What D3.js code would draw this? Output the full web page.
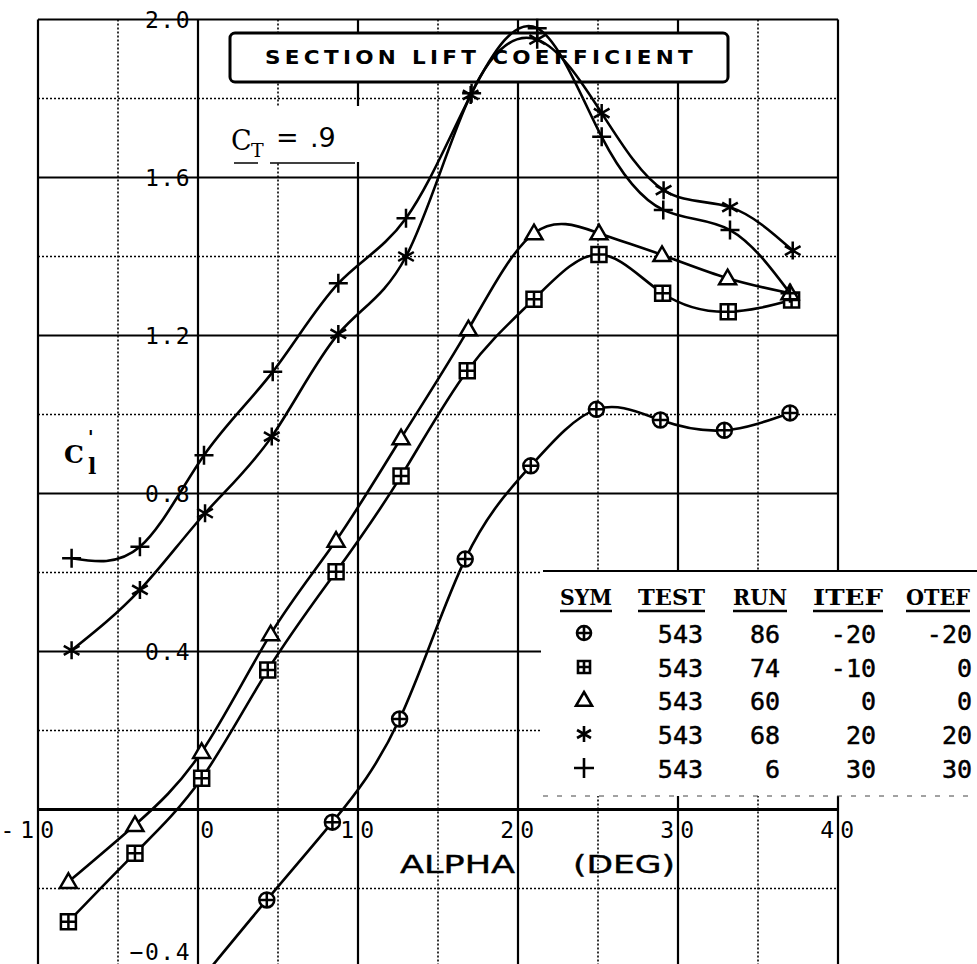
<!DOCTYPE html>
<html><head><meta charset="utf-8">
<script src="https://cdn.jsdelivr.net/npm/d3@7"></script>
<style>body{margin:0;background:#fff}svg{display:block}</style>
</head><body>
<svg id="c" width="977" height="964"></svg>
<script>
// ---------- data ----------
const alphaMajor = [-10, 0, 10, 20, 30, 40];
const alphaMinor = [-5, 5, 15, 25, 35];
const clMajor = [2.0, 1.6, 1.2, 0.8, 0.4, 0.0];
const clMinor = [1.8, 1.4, 1.0, 0.6, 0.2, -0.2];
const alphaTickLabels = [-10, 0, 10, 20, 30, 40];
const clTickLabels = [2.0, 1.6, 1.2, 0.8, 0.4, -0.4];

const alpha86 = [0.2, 4.3, 8.4, 12.6, 16.7, 20.8, 24.9, 28.9, 32.9, 37.0];
const cl86    = [-0.43, -0.229, -0.032, 0.229, 0.634, 0.870, 1.013, 0.986, 0.960, 1.004];
const alpha74 = [-8.1, -3.94, 0.23, 4.36, 8.63, 12.69, 16.83, 21.0, 25.06, 29.04, 33.14, 37.1];
const cl74    = [-0.284, -0.111, 0.079, 0.353, 0.602, 0.844, 1.111, 1.292, 1.405, 1.307, 1.260, 1.290];
const alpha60 = [-8.1, -3.94, 0.23, 4.54, 8.63, 12.69, 16.9, 21.0, 25.06, 29.0, 33.1, 37.0];
const cl60    = [-0.183, -0.039, 0.146, 0.444, 0.681, 0.940, 1.216, 1.459, 1.459, 1.404, 1.345, 1.307];
const alpha68 = [-7.9, -3.63, 0.44, 4.61, 8.77, 13.0, 17.04, 21.2, 25.23, 29.1, 33.25, 37.17];
const cl68    = [0.403, 0.556, 0.750, 0.944, 1.204, 1.400, 1.809, 1.949, 1.763, 1.568, 1.525, 1.415];
const alpha6  = [-7.9, -3.63, 0.375, 4.67, 8.77, 13.0, 17.1, 21.2, 25.23, 29.08, 33.25, 37.0];
const cl6     = [0.636, 0.665, 0.897, 1.108, 1.332, 1.497, 1.813, 1.978, 1.703, 1.518, 1.467, 1.307];

const legendSym  = ["circleplus", "squareplus", "triangle", "asterisk", "plus"];
const legendTest = [543, 543, 543, 543, 543];
const legendRun  = [86, 74, 60, 68, 6];
const legendItef = [-20, -10, 0, 20, 30];
const legendOtef = [-20, 0, 0, 20, 30];
const legendHeaders = ["SYM", "TEST", "RUN", "ITEF", "OTEF"];

const series = [
  {alpha: alpha86, cl: cl86, sym: "circleplus"},
  {alpha: alpha74, cl: cl74, sym: "squareplus"},
  {alpha: alpha60, cl: cl60, sym: "triangle"},
  {alpha: alpha68, cl: cl68, sym: "asterisk"},
  {alpha: alpha6,  cl: cl6,  sym: "plus"}
];

// ---------- layout ----------
const W = 977, H = 964;
const svg = d3.select("#c");
const x = d3.scaleLinear().domain([-10, 40]).range([38, 838]);
const y = d3.scaleLinear().domain([-0.4, 2.0]).range([967.5, 19.5]);
const pL = x(-10), pR = x(40), pT = y(2.0);

svg.append("rect").attr("width", W).attr("height", H).attr("fill", "#fff");
svg.append("defs").append("clipPath").attr("id", "plot")
  .append("rect").attr("x", pL - 12).attr("y", pT - 12).attr("width", pR - pL + 24).attr("height", H - pT + 12);

function symPath(t, s) {
  if (t === "circleplus") return `M${-s},0A${s},${s} 0 1,0 ${s},0A${s},${s} 0 1,0 ${-s},0ZM${-s},0H${s}M0,${-s}V${s}`;
  if (t === "squareplus") return `M${-s},${-s}H${s}V${s}H${-s}ZM${-s},0H${s}M0,${-s}V${s}`;
  if (t === "triangle") return `M0,${-s * 1.0}L${s},${s * 0.72}L${-s},${s * 0.72}Z`;
  if (t === "asterisk") { const c = s * 0.87, h = s * 0.5;
    return `M0,${-s}V${s}M${-c},${-h}L${c},${h}M${-c},${h}L${c},${-h}`; }
  return `M${-s},0H${s}M0,${-s}V${s}`;
}
const symSize = {circleplus: 7.5, squareplus: 7.5, triangle: 8.5, asterisk: 9, plus: 9.5};

// ---------- grid ----------
const grid = svg.append("g");
grid.selectAll(".vmin").data(alphaMinor).join("line")
  .attr("x1", d => x(d)).attr("x2", d => x(d)).attr("y1", pT).attr("y2", H)
  .attr("stroke", "#000").attr("stroke-width", 1.6).attr("stroke-dasharray", "2,2");
grid.selectAll(".hmin").data(clMinor).join("line")
  .attr("x1", pL).attr("x2", pR).attr("y1", d => y(d)).attr("y2", d => y(d))
  .attr("stroke", "#000").attr("stroke-width", 1.6).attr("stroke-dasharray", "2,2");
grid.selectAll(".vmaj").data(alphaMajor).join("line")
  .attr("x1", d => x(d)).attr("x2", d => x(d)).attr("y1", pT).attr("y2", H)
  .attr("stroke", "#000").attr("stroke-width", 2.2);
grid.selectAll(".hmaj").data(clMajor).join("line")
  .attr("x1", pL).attr("x2", pR).attr("y1", d => y(d)).attr("y2", d => y(d))
  .attr("stroke", "#000").attr("stroke-width", d => d === 0 ? 3.2 : 2.2);

// ---------- legend background ----------
const lg = svg.append("g");
lg.append("rect").attr("x", 541).attr("y", 571).attr("width", W - 541).attr("height", 225).attr("fill", "#fff");

// title box
svg.append("rect").attr("x", 230).attr("y", 33).attr("width", 498).attr("height", 49).attr("rx", 5)
  .attr("fill", "#fff").attr("stroke", "#000").attr("stroke-width", 3);
svg.append("text").attr("x", 265).attr("y", 64).attr("textLength", 432).attr("lengthAdjust", "spacingAndGlyphs")
  .attr("font-family", "DejaVu Sans").attr("font-weight", "bold").attr("font-size", 20).attr("letter-spacing", 4)
  .text("SECTION LIFT COEFFICIENT");

// C_T label
svg.append("rect").attr("x", 228).attr("y", 106).attr("width", 136).attr("height", 56).attr("fill", "#fff");
const ct = svg.append("text").attr("font-family", "DejaVu Serif").attr("font-size", 27);
ct.append("tspan").attr("x", 231).attr("y", 150).text("C");
ct.append("tspan").attr("x", 251).attr("y", 157).attr("font-size", 19).text("T");
ct.append("tspan").attr("x", 276).attr("y", 147).text("=");
ct.append("tspan").attr("x", 310).attr("y", 147).attr("font-family", "DejaVu Sans").text(".9");
svg.append("line").attr("x1", 234).attr("x2", 258).attr("y1", 163).attr("y2", 163).attr("stroke", "#000").attr("stroke-width", 1.5);
svg.append("line").attr("x1", 270).attr("x2", 355).attr("y1", 163).attr("y2", 163).attr("stroke", "#000").attr("stroke-width", 1.5);

// C'_l label
const clab = svg.append("text").attr("font-family", "DejaVu Serif").attr("font-weight", "bold").attr("font-size", 25);
clab.append("tspan").attr("x", 64).attr("y", 463).text("C");
clab.append("tspan").attr("x", 88).attr("y", 444).attr("font-size", 18).text("'");
clab.append("tspan").attr("x", 88).attr("y", 474).attr("font-size", 22).text("l");

// ---------- tick labels ----------
svg.append("g").selectAll("text").data(clTickLabels).join("text")
  .attr("x", 191).attr("y", d => Math.min(y(d), 952))
  .attr("text-anchor", "end").attr("dominant-baseline", "central")
  .attr("font-family", "DejaVu Sans Mono").attr("font-size", 23).attr("letter-spacing", 1.5)
  .text(d => d3.format(".1f")(d));
svg.append("g").selectAll("text").data(alphaTickLabels).join("text")
  .attr("x", d => x(d) + 22).attr("y", 838)
  .attr("text-anchor", "end")
  .attr("font-family", "DejaVu Sans Mono").attr("font-size", 23).attr("letter-spacing", 6)
  .text(d => String(d));
svg.append("text").attr("x", 400).attr("y", 873).attr("textLength", 115).attr("lengthAdjust", "spacingAndGlyphs")
  .attr("font-family", "DejaVu Sans").attr("font-size", 25).attr("stroke", "#000").attr("stroke-width", 0.4).text("ALPHA");
svg.append("text").attr("x", 573).attr("y", 873).attr("textLength", 102).attr("lengthAdjust", "spacingAndGlyphs")
  .attr("font-family", "DejaVu Sans").attr("font-size", 25).attr("stroke", "#000").attr("stroke-width", 0.4).text("(DEG)");

// ---------- curves ----------
const plot = svg.append("g").attr("clip-path", "url(#plot)");
const line = d3.line().x(d => x(d[0])).y(d => y(d[1])).curve(d3.curveNatural);
series.forEach(s => {
  const pts = s.alpha.map((a, i) => [a, s.cl[i]]);
  plot.append("path").attr("d", line(pts)).attr("fill", "none").attr("stroke", "#000").attr("stroke-width", 2.6);
  plot.selectAll(null).data(pts).join("path")
    .attr("transform", d => `translate(${x(d[0])},${y(d[1])})`)
    .attr("d", symPath(s.sym, symSize[s.sym]))
    .attr("fill", s.sym === "circleplus" || s.sym === "squareplus" || s.sym === "triangle" ? "#fff" : "none")
    .attr("stroke", "#000").attr("stroke-width", 2.5);
});

// ---------- legend ----------
lg.raise();
lg.append("line").attr("x1", 543).attr("x2", W).attr("y1", 571).attr("y2", 571).attr("stroke", "#000").attr("stroke-width", 2);
lg.append("line").attr("x1", 543).attr("x2", W).attr("y1", 796).attr("y2", 796).attr("stroke", "#444").attr("stroke-width", 1).attr("stroke-dasharray", "5,9");
const hx = [560, 638, 733, 813, 906], hw = [52, 67, 54, 70, 64];
legendHeaders.forEach((h, i) => {
  lg.append("text").attr("x", hx[i]).attr("y", 605).attr("textLength", hw[i]).attr("lengthAdjust", "spacingAndGlyphs")
    .attr("font-family", "DejaVu Serif").attr("font-weight", "bold").attr("font-size", 22).text(h);
  lg.append("line").attr("x1", hx[i]).attr("x2", hx[i] + hw[i]).attr("y1", 611).attr("y2", 611)
    .attr("stroke", "#000").attr("stroke-width", 2.5);
});
const rowY = [643, 677, 710, 744, 778];
const cols = [[legendTest, 703], [legendRun, 780], [legendItef, 876], [legendOtef, 972]];
cols.forEach(([arr, rx]) => {
  lg.append("g").selectAll("text").data(arr).join("text")
    .attr("x", rx).attr("y", (d, i) => rowY[i]).attr("text-anchor", "end")
    .attr("font-family", "DejaVu Sans Mono").attr("font-size", 25).attr("stroke", "#000").attr("stroke-width", 0.5)
    .text(d => String(d));
});
const symLegendSize = {circleplus: 7, squareplus: 6, triangle: 8, asterisk: 8, plus: 10};
lg.append("g").selectAll("path").data(legendSym).join("path")
  .attr("transform", (d, i) => `translate(584,${rowY[i] - 10})`)
  .attr("d", d => symPath(d, symLegendSize[d]))
  .attr("fill", "none").attr("stroke", "#000").attr("stroke-width", 2.6);
</script>
</body></html>
